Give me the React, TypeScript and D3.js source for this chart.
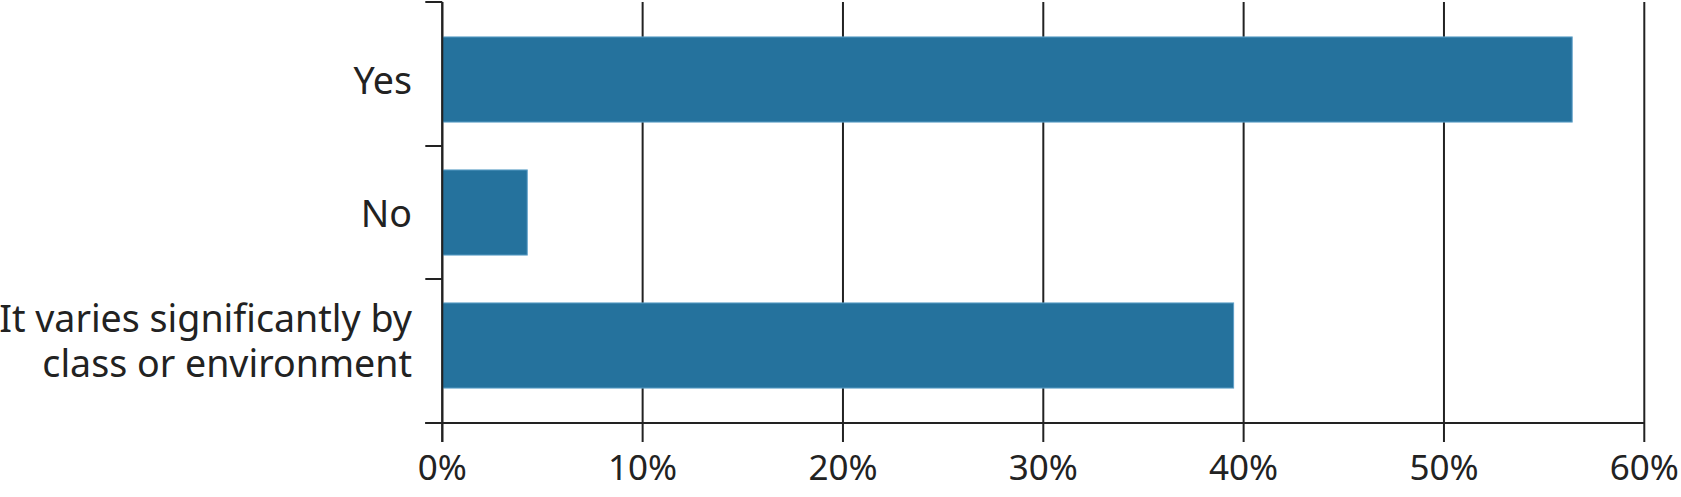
import { scaleBand, scaleLinear } from "d3";

const categories = ["Yes", "No", "It varies significantly by class or environment"];
const labelLines = [["Yes"], ["No"], ["It varies significantly by", "class or environment"]];
const values = [0.564, 0.0424, 0.395];
const xTicks = [0, 0.1, 0.2, 0.3, 0.4, 0.5, 0.6];

const W = 1681;
const H = 497;
const axisLeft = 442.3;
const axisRight = 1644.3;
const axisTop = 2;
const axisBottom = 423;
const ink = "#222222";
const barFill = "#25729d";

export default function App() {
  const x = scaleLinear().domain([0, 0.6]).range([axisLeft, axisRight]);
  const y = scaleBand<string>()
    .domain(categories)
    .range([13, 412])
    .paddingInner(0.36)
    .paddingOuter(0.18);
  const step = y.step();
  const gap = step * y.paddingInner();

  // category ticks: axis ends + midpoints between bands
  const yTicks = [
    axisTop,
    ...categories.slice(1).map((c) => (y(c) ?? 0) - gap / 2),
    axisBottom,
  ];

  return (
    <svg
      width={W}
      height={H}
      viewBox={`0 0 ${W} ${H}`}
      style={{ position: "absolute", left: 0, top: 0, background: "#fff" }}
      fontFamily="'Noto Sans', 'Open Sans', sans-serif"
    >
      {/* Grid lines */}
      {xTicks.map((t) => (
        <line
          key={t}
          x1={x(t)}
          x2={x(t)}
          y1={axisTop}
          y2={axisBottom + 19}
          stroke={ink}
          strokeWidth={2}
        />
      ))}

      {/* Bars */}
      {categories.map((c, i) => (
        <rect
          key={c}
          x={x(0)}
          y={y(c)}
          width={x(values[i]) - x(0)}
          height={y.bandwidth()}
          fill={barFill}
          stroke="#5f9fc8"
          strokeWidth={1}
        />
      ))}

      {/* Axes */}
      <line x1={axisLeft} x2={axisLeft} y1={axisTop} y2={axisBottom + 19} stroke={ink} strokeWidth={2} />
      <line x1={axisLeft - 17} x2={axisRight} y1={axisBottom} y2={axisBottom} stroke={ink} strokeWidth={2} />
      {yTicks.map((t, i) => (
        <line key={i} x1={axisLeft - 17} x2={axisLeft} y1={t} y2={t} stroke={ink} strokeWidth={2} />
      ))}

      {/* Category labels */}
      {categories.map((c, i) => {
        const lines = labelLines[i];
        const center = (y(c) ?? 0) + y.bandwidth() / 2;
        const first = center + 14 - (lines.length - 1) * 28;
        return (
          <text key={c} x={412} y={first} textAnchor="end" fontSize={37.6} fill={ink}>
            {lines.map((l, j) => (
              <tspan key={j} x={412} dy={j === 0 ? 0 : 45}>
                {l}
              </tspan>
            ))}
          </text>
        );
      })}

      {/* X tick labels */}
      {xTicks.map((t) => (
        <text key={t} x={x(t)} y={480} textAnchor="middle" fontSize={35} fill={ink}>
          {`${Math.round(t * 100)}%`}
        </text>
      ))}
    </svg>
  );
}
